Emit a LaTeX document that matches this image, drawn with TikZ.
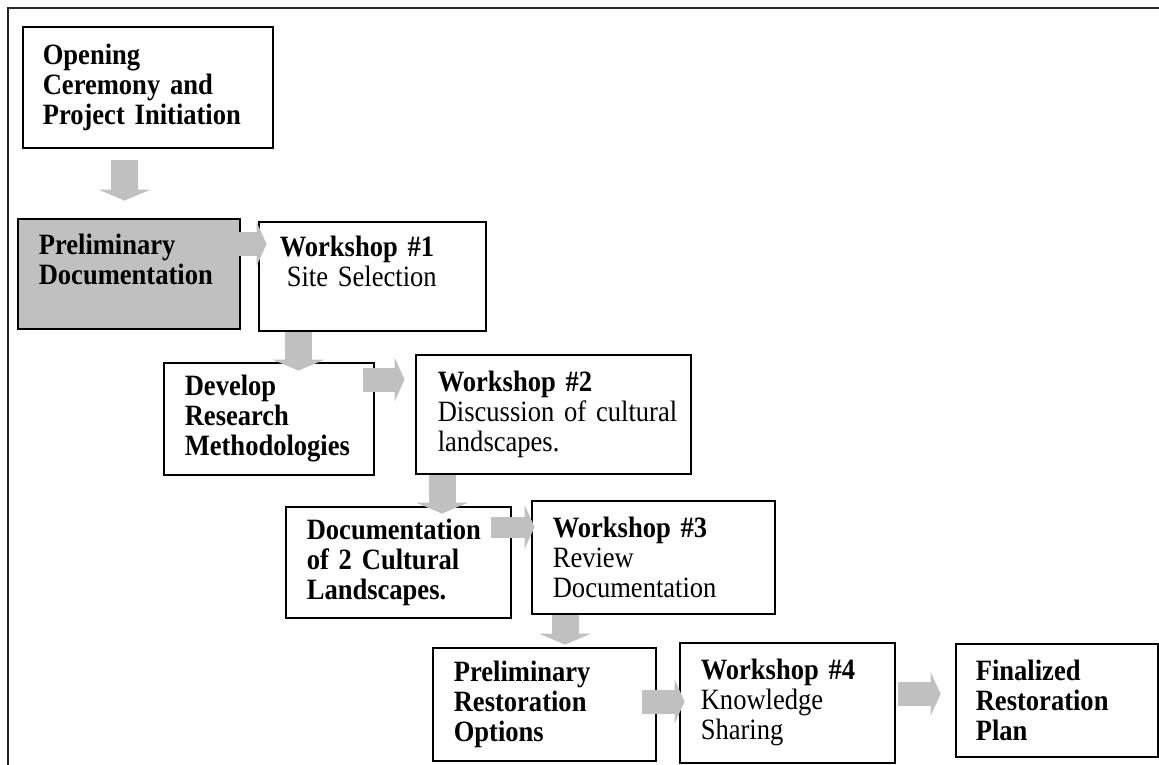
\documentclass[tikz,border=0pt]{standalone}
\usepackage{fontspec}
\setmainfont{Liberation Serif}[FakeStretch=0.9, WordSpace=0.85]
\usetikzlibrary{arrows.meta, calc}

\definecolor{boxgray}{RGB}{192,192,192}
\hyphenpenalty=10000

\tikzset{
  stage/.style={draw, line width=1.6pt, rectangle, anchor=north west, inner ysep=0pt,
                inner xsep=21pt, align=left, font=\fontsize{29.5pt}{30pt}\selectfont},
  downarrow/.style={draw=boxgray, line width=27pt,
                    -{Triangle[width=52pt,length=11pt,line width=0pt]}},
  rightarrow/.style={draw=boxgray, line width=24pt,
                     -{Triangle[width=44pt,length=10pt,line width=0pt]}}
}

\begin{document}
\begin{tikzpicture}[x=1pt, y=1pt]
    \useasboundingbox (0,0) rectangle (1159,-764);

    % outer frame (open to the right and bottom)
    \draw[line width=2.2pt, black!85] (8,-766) -- (8,-8) -- (1161,-8);

    \node[stage, minimum width=250pt, minimum height=121pt, text width=210pt, inner xsep=20pt]
        (open) at (22,-26) {\bfseries Opening\\\bfseries Ceremony and\\\bfseries Project Initiation};
    \node[stage, fill=boxgray, minimum width=222pt, minimum height=110pt, text width=180pt]
        (prelimdoc) at (17,-218) {\bfseries Preliminary\\\bfseries Documentation\\\mbox{}};
    \node[stage, minimum width=227pt, minimum height=109pt, text width=185pt]
        (ws1) at (258,-221) {\textbf{Workshop \#1}\\\hspace*{7pt}Site Selection\\\mbox{}};
    \node[stage, minimum width=210pt, minimum height=112pt, text width=168pt]
        (method) at (163,-362) {\bfseries Develop\\\bfseries Research\\\textbf{Methodologi}es};
    \node[stage, minimum width=275pt, minimum height=119pt, text width=231pt, inner xsep=22pt]
        (ws2) at (415,-354) {\textbf{Workshop \#2}\\\mbox{Discussion of cultural}\\landscapes.};
    \node[stage, minimum width=225pt, minimum height=111pt, text width=183pt]
        (doccl) at (285,-506) {\bfseries Documentation\\\bfseries of 2 Cultural\\\bfseries Landscapes.};
    \node[stage, minimum width=243pt, minimum height=113pt, text width=201pt]
        (ws3) at (531,-500) {\textbf{Workshop \#3}\\Review\\Documentation};
    \node[stage, minimum width=223pt, minimum height=113pt, text width=181pt]
        (prelimrest) at (432,-647) {\bfseries Preliminary\\\bfseries Restoration\\\bfseries Options};
    \node[stage, minimum width=215pt, minimum height=120pt, text width=173pt]
        (ws4) at (679,-642) {\textbf{Workshop \#4}\\Knowledge\\Sharing};
    \node[stage, minimum width=202pt, minimum height=113pt, text width=162pt, inner xsep=20pt]
        (final) at (955,-643) {\bfseries Finalized\\\bfseries Restoration\\\bfseries Plan};

    % block arrows
    \draw[downarrow] ($(open.south west)+(102.5,-11)$) -- ($(open.south west)+(102.5,-52)$);
    \draw[rightarrow] ($(prelimdoc.north east)+(-19,-26)$) -- ($(prelimdoc.north east)+(26,-26)$);
    \draw[downarrow] ($(ws1.south west)+(40.5,0)$) -- ($(ws1.south west)+(40.5,-39)$);
    \draw[rightarrow] ($(method.north east)+(-12,-17.5)$) -- ($(method.north east)+(30,-17.5)$);
    \draw[downarrow] ($(ws2.south west)+(27,0)$) -- ($(ws2.south west)+(27,-39)$);
    \draw[rightarrow, line width=21pt] ($(doccl.north east)+(-21,-21)$) -- ($(doccl.north east)+(23,-21)$);
    \draw[downarrow] ($(ws3.south west)+(34,0)$) -- ($(ws3.south west)+(34,-30)$);
    \draw[rightarrow] ($(prelimrest.north east)+(-15,-54.5)$) -- ($(prelimrest.north east)+(28,-54.5)$);
    \draw[rightarrow] ($(ws4.north east)+(2,-52)$) -- ($(ws4.north east)+(45,-52)$);
\end{tikzpicture}
\end{document}
